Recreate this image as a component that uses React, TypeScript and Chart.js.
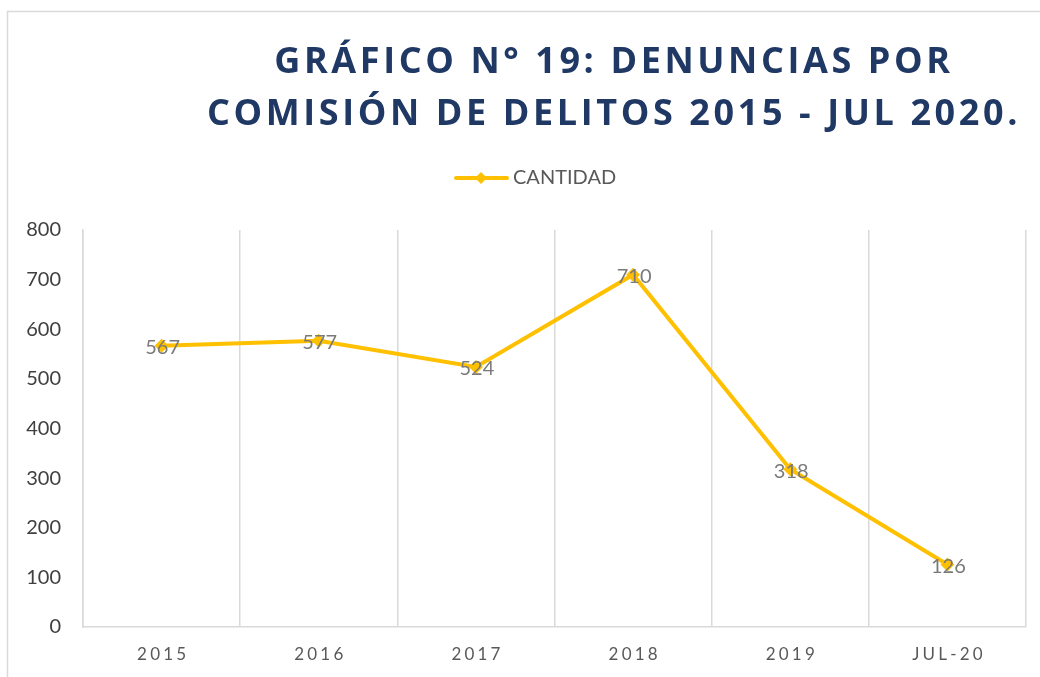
import React, { useEffect, useRef } from "react";
import { Chart, registerables } from "chart.js";

Chart.register(...registerables);

const categories = ["2015", "2016", "2017", "2018", "2019", "JUL-20"];
const cantidad = [567, 577, 524, 710, 318, 126];
const titleLines = ["GRÁFICO N° 19: DENUNCIAS POR", "COMISIÓN DE DELITOS 2015 - JUL 2020."];
const seriesName = "CANTIDAD";

const YELLOW = "#FFC000";
const GRID = "#d9d9d9";

const decorPlugin = {
  id: "decor",
  beforeDraw(chart: any) {
    const ctx = chart.ctx as CanvasRenderingContext2D;
    ctx.save();
    ctx.strokeStyle = GRID;
    ctx.lineWidth = 1.5;
    ctx.beginPath();
    ctx.moveTo(7.5, chart.height);
    ctx.lineTo(7.5, 11.5);
    ctx.lineTo(chart.width, 11.5);
    ctx.stroke();
    ctx.restore();
  },
  afterDraw(chart: any) {
    const ctx = chart.ctx as CanvasRenderingContext2D;
    ctx.save();
    // title
    ctx.fillStyle = "#1F3864";
    ctx.font = "bold 36px 'Open Sans'";
    (ctx as any).letterSpacing = "3.6px";
    ctx.textAlign = "center";
    ctx.textBaseline = "alphabetic";
    ctx.fillText(titleLines[0], 614, 73);
    ctx.fillText(titleLines[1], 614, 125);
    (ctx as any).letterSpacing = "0px";
    // legend
    const ly = 178;
    ctx.strokeStyle = YELLOW;
    ctx.lineWidth = 4;
    ctx.lineCap = "round";
    ctx.beginPath();
    ctx.moveTo(456, ly);
    ctx.lineTo(507, ly);
    ctx.stroke();
    ctx.fillStyle = YELLOW;
    ctx.beginPath();
    ctx.moveTo(481, ly - 6);
    ctx.lineTo(487, ly);
    ctx.lineTo(481, ly + 6);
    ctx.lineTo(475, ly);
    ctx.closePath();
    ctx.fill();
    ctx.fillStyle = "#595959";
    ctx.font = "20px Lato";
    ctx.textAlign = "left";
    ctx.textBaseline = "middle";
    ctx.fillText(seriesName, 513, ly);
    ctx.restore();
  },
  afterDatasetsDraw(chart: any) {
    const ctx = chart.ctx as CanvasRenderingContext2D;
    const meta = chart.getDatasetMeta(0);
    ctx.save();
    ctx.fillStyle = "#7a7a7a";
    ctx.font = "20px Lato";
    ctx.textAlign = "center";
    ctx.textBaseline = "middle";
    meta.data.forEach((pt: any, i: number) => {
      ctx.fillText(String(cantidad[i]), pt.x + 1, pt.y + 2);
    });
    ctx.restore();
  },
};

export default function App() {
  const ref = useRef<HTMLCanvasElement>(null);
  useEffect(() => {
    document.body.style.margin = "0";
    const chart = new Chart(ref.current!, {
      type: "line",
      data: {
        labels: categories,
        datasets: [
          {
            label: seriesName,
            data: cantidad,
            borderColor: YELLOW,
            backgroundColor: YELLOW,
            borderWidth: 4,
            pointStyle: "rectRot",
            pointRadius: 7,
            pointBorderWidth: 0,
            pointBackgroundColor: YELLOW,
            tension: 0,
          },
        ],
      },
      options: {
        animation: false,
        responsive: false,
        layout: { padding: { left: 0, right: 14, top: 230, bottom: 0 } },
        plugins: {
          legend: { display: false },
          title: { display: false },
          tooltip: { enabled: false },
        },
        scales: {
          x: {
            offset: true,
            grid: { display: true, color: GRID, lineWidth: 1.5, drawTicks: false, offset: true },
            border: { display: true, color: GRID, width: 1.5 },
            ticks: {
              color: "#595959",
              font: { family: "Lato", size: 17 },
              padding: 17,
              maxRotation: 0,
              callback: function (this: any, v: any) {
                return this.getLabelForValue(v).split("").join("\u2009\u200A");
              },
            },
            afterFit(scale: any) {
              scale.height = 50;
            },
          },
          y: {
            min: 0,
            max: 800,
            ticks: {
              stepSize: 100,
              color: "#404040",
              font: { family: "Lato", size: 20 },
              padding: 22,
            },
            grid: { display: false, drawTicks: false },
            border: { display: true, color: GRID, width: 1.5 },
            afterFit(scale: any) {
              scale.width = 83;
            },
          },
        },
      },
      plugins: [decorPlugin],
    });
    return () => chart.destroy();
  }, []);
  return <canvas ref={ref} width={1040} height={677} style={{ display: "block" }} />;
}
